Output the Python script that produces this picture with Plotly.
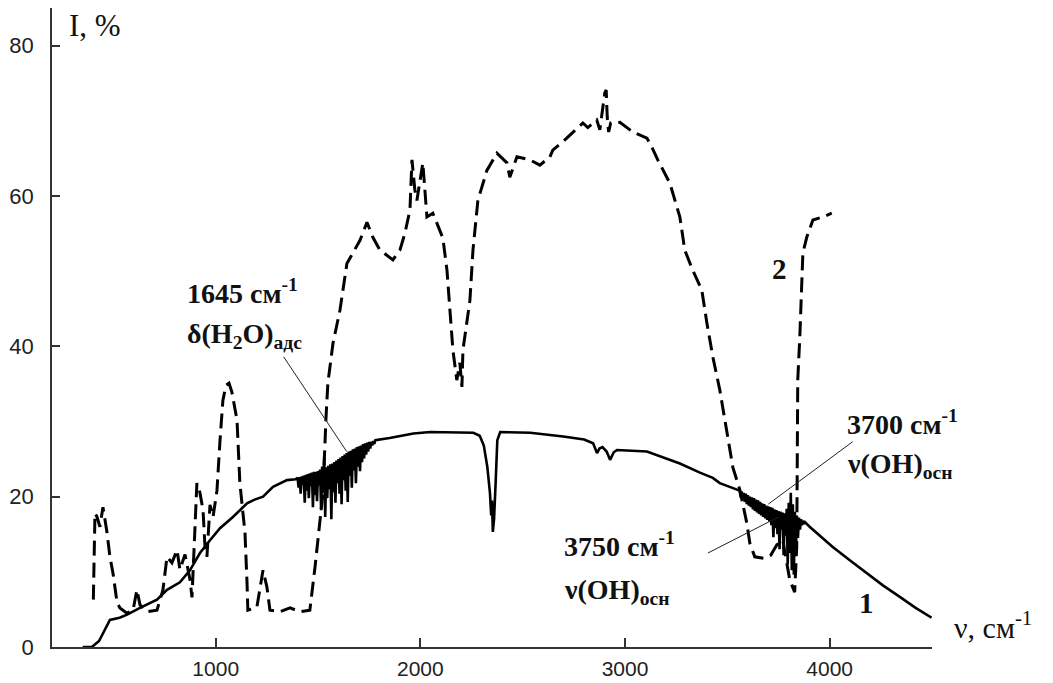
import plotly.graph_objects as go

# ---- Spectrum 1 (solid): wavenumber, cm-1 / intensity, %
nu1 = [350, 395, 430, 483, 530, 567, 630, 713, 762, 825, 874, 923, 972, 1021,
       1084, 1153, 1190, 1231, 1280, 1348, 1390,
       1400, 1405, 1410, 1415, 1420, 1425, 1430, 1435, 1440, 1445, 1450, 1455,
       1460, 1465, 1470, 1475, 1480, 1485, 1490, 1495, 1500, 1505, 1510, 1515,
       1520, 1525, 1530, 1535, 1540, 1545, 1550, 1555, 1560, 1565, 1570, 1575,
       1580, 1585, 1590, 1595, 1600, 1605, 1610, 1615, 1620, 1625, 1630, 1635,
       1640, 1645, 1650, 1655, 1660, 1665, 1670, 1675, 1680, 1685, 1690, 1695,
       1700, 1705, 1710, 1715, 1720, 1725, 1730, 1735, 1740, 1745, 1750, 1755,
       1760, 1765, 1770, 1775, 1780,
       1850, 1900, 1966, 2049, 2150, 2259, 2290, 2310, 2327, 2340, 2346,
       2350, 2354, 2360, 2368, 2376, 2390, 2537, 2698, 2800, 2844, 2855, 2863,
       2875, 2890, 2910, 2927, 2945, 2961, 3107, 3268, 3366, 3429, 3463, 3512,
       3545,
       3560, 3565, 3570, 3575, 3580, 3585, 3590, 3595, 3600, 3605, 3610, 3615,
       3620, 3625, 3630, 3635, 3640, 3645, 3650, 3655, 3660, 3665, 3670, 3675,
       3680, 3685, 3690, 3695, 3700, 3705, 3710, 3715, 3720, 3725, 3730, 3735,
       3740, 3745, 3750, 3755, 3760, 3765, 3770, 3775, 3780, 3785, 3790, 3795,
       3800, 3805, 3810, 3815, 3820, 3825, 3830, 3835, 3840, 3845, 3850, 3855,
       3860, 3865, 3870, 3875, 3880,
       3902, 3950, 4015, 4100, 4180, 4260, 4341, 4420, 4498]
int1 = [0.0, 0.0, 0.8, 3.6, 3.9, 4.3, 5.2, 6.3, 7.6, 8.6, 10.2, 12.5, 14.2, 15.8,
        17.3, 19.1, 19.6, 20.0, 21.3, 22.2, 22.3,
        22.5, 21.2, 22.6, 20.4, 22.7, 21.6, 22.8, 19.2, 22.9, 20.8, 23.0, 19.8,
        23.1, 21.4, 23.2, 18.6, 23.3, 20.2, 23.3, 19.4, 23.4, 21.5, 23.6, 18.2,
        24.0, 20.5, 25.3, 17.3, 23.9, 19.8, 24.1, 21.0, 24.3, 17.0, 24.4, 20.6,
        24.6, 19.2, 24.8, 21.8, 25.0, 20.4, 25.2, 19.0, 25.4, 22.2, 25.6, 20.8,
        25.8, 19.3, 26.0, 22.8, 26.1, 21.2, 26.3, 23.5, 26.4, 21.8, 26.6, 24.0,
        26.7, 23.4, 26.8, 24.6, 27.0, 25.1, 27.1, 25.6, 27.2, 26.0, 27.3, 26.4,
        27.3, 26.8, 27.4, 27.0, 27.5,
        27.8, 28.1, 28.4, 28.6, 28.6, 28.5, 28.1, 26.8, 24.0, 20.5, 17.5,
        19.5, 15.3, 17.0, 22.0, 27.5, 28.6, 28.5, 28.0, 27.6, 27.1, 26.2, 25.8,
        26.4, 26.6, 26.0, 24.9, 25.9, 26.2, 26.0, 24.4, 23.2, 22.5, 21.8, 21.3,
        20.9,
        20.8, 19.9, 20.7, 19.6, 20.5, 19.3, 20.4, 19.0, 20.2, 18.8, 20.0, 18.6,
        19.9, 18.3, 19.8, 18.1, 19.6, 17.9, 19.5, 17.7, 19.3, 17.5, 19.1, 17.3,
        19.0, 17.1, 18.8, 16.9, 18.7, 16.7, 18.6, 16.2, 18.5, 14.6, 18.3, 15.8,
        18.2, 15.0, 18.1, 13.0, 18.0, 15.6, 17.9, 12.2, 17.8, 14.8, 18.4, 11.0,
        19.2, 12.5, 20.5, 10.2, 19.0, 9.6, 18.0, 12.8, 17.5, 14.5, 17.2, 15.6,
        17.0, 16.2, 16.8, 16.4, 16.6,
        16.0, 14.9, 13.3, 11.5, 9.8, 8.2, 6.7, 5.2, 3.9]

# ---- Spectrum 2 (dashed)
nu2 = [402, 410, 420, 434, 449, 469, 483, 498, 518, 532, 566, 596, 615, 630,
       664, 713, 742, 762, 786, 811, 825, 850, 874, 884, 908, 923, 938, 947,
       957, 972, 987, 1006, 1021, 1035, 1050, 1065, 1079, 1104, 1118, 1143,
       1153, 1157, 1201, 1231, 1250, 1265, 1314, 1363, 1412, 1460, 1485, 1524,
       1539, 1548, 1573, 1607, 1641, 1705, 1739, 1768, 1802, 1866, 1900, 1924,
       1949, 1959, 1973, 1983, 2012, 2032, 2061, 2110, 2130, 2144, 2159, 2178,
       2193, 2203, 2208, 2242, 2257, 2281, 2325, 2374, 2423, 2437, 2472, 2535,
       2584, 2633, 2647, 2696, 2745, 2794, 2818, 2862, 2877, 2893, 2901, 2908,
       2913, 2920, 2930, 2975, 3038, 3107, 3131, 3160, 3204, 3219, 3268, 3292,
       3331, 3375, 3400, 3429, 3463, 3497, 3527, 3561, 3595, 3610, 3634, 3680,
       3712, 3742, 3771, 3805, 3829, 3839, 3840, 3844, 3854, 3864, 3869, 3888,
       3918, 3966, 4010]
int2 = [6.3, 17.8, 17.3, 16.0, 18.6, 15.2, 12.0, 9.8, 5.9, 5.2, 4.5, 4.9, 7.6,
        5.6, 4.7, 4.9, 7.6, 12.0, 11.2, 12.9, 10.3, 12.3, 9.0, 6.6, 21.8, 20.5,
        18.2, 13.6, 12.0, 18.9, 17.3, 20.8, 27.5, 32.8, 34.8, 35.1, 33.9, 30.2,
        21.8, 15.2, 8.5, 4.9, 5.3, 10.2, 8.0, 4.9, 4.7, 5.2, 4.7, 4.9, 10.6,
        20.5, 30.6, 35.1, 40.4, 44.8, 51.0, 54.1, 56.5, 54.5, 52.8, 51.5, 52.8,
        55.0, 58.1, 64.8, 60.8, 59.4, 64.4, 57.2, 57.7, 54.4, 50.1, 44.8, 39.5,
        35.5, 37.8, 34.6, 39.5, 46.1, 52.8, 59.4, 63.4, 65.7, 64.4, 62.5, 65.2,
        64.8, 64.1, 65.2, 66.1, 67.2, 68.4, 69.7, 69.1, 70.1, 68.8, 72.0, 73.7,
        74.1, 70.5, 68.5, 69.7, 69.8, 68.5, 67.7, 66.5, 64.8, 62.5, 61.7, 57.2,
        52.8, 50.1, 47.5, 43.1, 38.6, 34.2, 28.9, 23.9, 20.9, 16.5, 13.8, 12.0,
        11.8, 12.2, 13.6, 14.2, 8.9, 7.3, 13.3, 20.9, 35.5, 41.2, 47.5, 52.4,
        54.5, 56.8, 57.2, 57.7]

# ---- Axis ticks
x_ticks = [1000, 2000, 3000, 4000]
y_ticks = [0, 20, 40, 60, 80]

# ---- Leader lines: (start nu, end nu), (start I, end I)
leaders = [
    ([1332, 1640], [38.6, 26.0]),
    ([4112, 3700], [27.3, 19.0]),
    ([3405, 3750], [12.5, 17.3]),
]

# ---- Band labels: (nu, I, text)
band_labels = [
    (850, 47.3, "1645 см<sup>-1</sup>"),
    (850, 41.4, "δ(H<sub>2</sub>O)<sub>адс</sub>"),
    (4074, 29.8, "3700 см<sup>-1</sup>"),
    (4074, 24.2, "ν(OH)<sub>осн</sub>"),
    (2691, 13.6, "3750 см<sup>-1</sup>"),
    (2691, 7.4, "ν(OH)<sub>осн</sub>"),
]
curve_labels = [(4181, 5.9, "1"), (3757, 50.3, "2")]

serif = "Liberation Serif"
sans = "Liberation Sans"

fig = go.Figure()
fig.add_trace(go.Scatter(x=nu2, y=int2, mode="lines",
                         line=dict(color="black", width=3, dash="15px,7px"),
                         hoverinfo="skip", showlegend=False))
fig.add_trace(go.Scatter(x=nu1, y=int1, mode="lines",
                         line=dict(color="black", width=2.6),
                         hoverinfo="skip", showlegend=False))
for lx, ly in leaders:
    fig.add_trace(go.Scatter(x=lx, y=ly, mode="lines",
                             line=dict(color="#222", width=1),
                             hoverinfo="skip", showlegend=False))

annotations = []
for x, y, t in band_labels:
    annotations.append(dict(x=x, y=y, xref="x", yref="y", text=t, showarrow=False,
                            xanchor="left", yanchor="middle",
                            font=dict(family=serif, size=28, color="#111", weight="bold")))
for x, y, t in curve_labels:
    annotations.append(dict(x=x, y=y, xref="x", yref="y", text=t, showarrow=False,
                            xanchor="center", yanchor="middle",
                            font=dict(family=serif, size=29, color="#111", weight="bold")))
annotations.append(dict(x=273, y=82.7, xref="x", yref="y", text="I, %", showarrow=False,
                        xanchor="left", yanchor="middle",
                        font=dict(family=serif, size=31, color="#111")))
annotations.append(dict(x=1.023, y=2.9, xref="paper", yref="y",
                        text="ν, см<sup>-1</sup>", showarrow=False,
                        xanchor="left", yanchor="middle",
                        font=dict(family=serif, size=30, color="#111")))

fig.update_layout(
    width=1053, height=683,
    margin=dict(l=52, r=121, t=8, b=36),
    paper_bgcolor="white", plot_bgcolor="white",
    annotations=annotations,
    xaxis=dict(range=[200, 4500], tickvals=x_ticks, ticks="inside", ticklen=9,
               tickwidth=1.5, tickcolor="#333", showline=True, linecolor="#333",
               linewidth=1.5, showgrid=False, zeroline=False, automargin=False,
               ticklabelstandoff=2,
               tickfont=dict(family=sans, size=21, color="#222")),
    yaxis=dict(range=[0, 85], tickvals=y_ticks, ticks="inside", ticklen=8,
               tickwidth=1.5, tickcolor="#333", showline=True, linecolor="#333",
               linewidth=1.5, showgrid=False, zeroline=False, automargin=False,
               ticklabelstandoff=12,
               tickfont=dict(family=sans, size=22, color="#222")),
)

fig.write_html("out.html")
